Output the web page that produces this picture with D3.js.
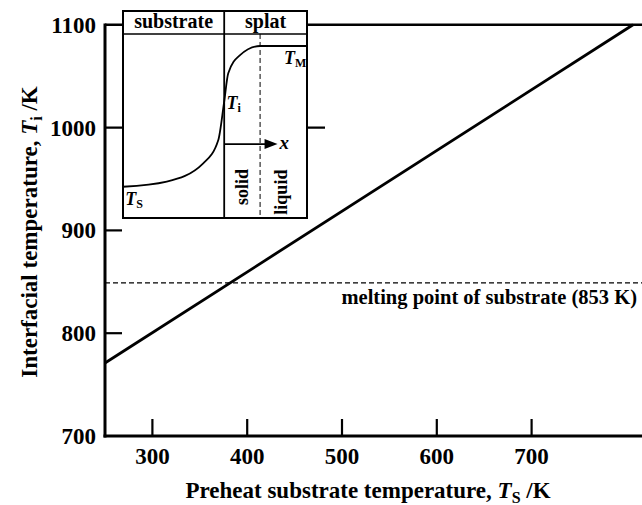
<!DOCTYPE html>
<html>
<head>
<meta charset="utf-8">
<script src="https://cdn.jsdelivr.net/npm/d3@7"></script>
<style>
  body { margin: 0; background: #fff; }
  svg text { font-family: "Liberation Serif", "Times New Roman", Tinos, "DejaVu Serif", serif; font-weight: bold; fill: #000; }
</style>
</head>
<body>
<div id="chart"></div>
<script>
// main chart data
const xTicks = [300, 400, 500, 600, 700];
const yTicks = [700, 800, 900, 1000, 1100];
const interfaceLine = [ {ts: 250, ti: 771}, {ts: 807, ti: 1100} ];
const meltingPoint = 849;   // where the dashed line sits in the picture
const meltingLabel = "melting point of substrate (853 K)";

// inset (schematic profile, arbitrary 0-100 units)
const insetProfile = [
    {u: 0, v: 15.1}, {u: 23.8, v: 17.6}, {u: 43.6, v: 26.4}, {u: 51.8, v: 37.7},
    {u: 54.9, v: 55.6}, {u: 57.2, v: 69.9}, {u: 63.6, v: 78.7}, {u: 74.5, v: 83.1},
    {u: 100, v: 83.1}
];
const insetInterface = 55;
const insetMeltFront = 74.5;
const insetHeader = 88.9;
const insetArrow = {from: 55, to: 84, v: 35.7};

const W = 642, H = 505;
const margin = {top: 24.8, right: 0, bottom: 69, left: 105};

const x = d3.scaleLinear().domain([250, 800]).range([margin.left, margin.left + 550 * 0.948]);
const y = d3.scaleLinear().domain([700, 1100]).range([H - margin.bottom, margin.top]);

const svg = d3.select("#chart").append("svg")
    .attr("width", W)
    .attr("height", H);

// top frame line at 1100
svg.append("line")
    .attr("x1", x(250)).attr("x2", W)
    .attr("y1", y(1100)).attr("y2", y(1100))
    .attr("stroke", "#000").attr("stroke-width", 2.5);

// y ticks (inward); the 1000 tick runs on past the inset
svg.selectAll(".ytick")
    .data(yTicks.filter(d => d > 700 && d < 1100))
    .enter().append("line")
    .attr("x1", x(250))
    .attr("x2", d => x(250) + (d === 1000 ? 220 : 17))
    .attr("y1", d => y(d)).attr("y2", d => y(d))
    .attr("stroke", "#000").attr("stroke-width", 2.2);

// x ticks (inward)
svg.selectAll(".xtick")
    .data(xTicks)
    .enter().append("line")
    .attr("x1", d => x(d)).attr("x2", d => x(d))
    .attr("y1", y(700)).attr("y2", y(700) - 17)
    .attr("stroke", "#000").attr("stroke-width", 2.2);

// axes lines
svg.append("line")
    .attr("x1", x(250)).attr("x2", x(250))
    .attr("y1", y(700) + 1.5).attr("y2", y(1100) - 1.2)
    .attr("stroke", "#000").attr("stroke-width", 3);
svg.append("line")
    .attr("x1", x(250) - 1.5).attr("x2", W)
    .attr("y1", y(700)).attr("y2", y(700))
    .attr("stroke", "#000").attr("stroke-width", 3);

// tick labels
svg.selectAll(".ylab")
    .data(yTicks)
    .enter().append("text")
    .attr("x", x(250) - 9)
    .attr("y", d => y(d) + 8)
    .attr("text-anchor", "end")
    .style("font-size", "23px")
    .text(d => d);

svg.selectAll(".xlab")
    .data(xTicks)
    .enter().append("text")
    .attr("x", d => x(d))
    .attr("y", y(700) + 28)
    .attr("text-anchor", "middle")
    .style("font-size", "23px")
    .text(d => d);

// melting point dashed line + label
svg.append("line")
    .attr("x1", x(250)).attr("x2", W)
    .attr("y1", y(meltingPoint)).attr("y2", y(meltingPoint))
    .attr("stroke", "#000").attr("stroke-width", 1.1)
    .attr("stroke-dasharray", "5,3");
svg.append("text")
    .attr("x", 637).attr("y", y(meltingPoint) + 21)
    .attr("text-anchor", "end")
    .style("font-size", "20.5px")
    .text(meltingLabel);

// interfacial temperature line
const valueline = d3.line()
    .x(d => x(d.ts))
    .y(d => y(d.ti));
svg.append("path")
    .datum(interfaceLine)
    .attr("d", valueline)
    .attr("fill", "none")
    .attr("stroke", "#000")
    .attr("stroke-width", 2.8);

// axis titles
const xt = svg.append("text")
    .attr("x", 368).attr("y", 498)
    .attr("text-anchor", "middle")
    .style("font-size", "23px");
xt.append("tspan").text("Preheat substrate temperature, ");
xt.append("tspan").style("font-style", "italic").text("T");
xt.append("tspan").attr("dy", 5).style("font-size", "16px").text("S");
xt.append("tspan").attr("dy", -5).text(" /K");

const yt = svg.append("text")
    .attr("transform", "translate(37,232) rotate(-90)")
    .attr("text-anchor", "middle")
    .style("font-size", "23px");
yt.append("tspan").text("Interfacial temperature, ");
yt.append("tspan").style("font-style", "italic").text("T");
yt.append("tspan").attr("dy", 5).style("font-size", "16px").text("i");
yt.append("tspan").attr("dy", -5).text(" /K");

// ---- inset ----
const ix = d3.scaleLinear().domain([0, 100]).range([123, 307]);
const iy = d3.scaleLinear().domain([0, 100]).range([218, 11]);
const inset = svg.append("g");

inset.append("rect")
    .attr("x", ix(0)).attr("y", iy(100))
    .attr("width", ix(100) - ix(0)).attr("height", iy(0) - iy(100))
    .attr("fill", "#fff").attr("stroke", "#000").attr("stroke-width", 2);

inset.append("line")
    .attr("x1", ix(0)).attr("x2", ix(100))
    .attr("y1", iy(insetHeader)).attr("y2", iy(insetHeader))
    .attr("stroke", "#000").attr("stroke-width", 1.6);

inset.append("line")
    .attr("x1", ix(insetInterface)).attr("x2", ix(insetInterface))
    .attr("y1", iy(100)).attr("y2", iy(0))
    .attr("stroke", "#000").attr("stroke-width", 1.8);

inset.append("line")
    .attr("x1", ix(insetMeltFront)).attr("x2", ix(insetMeltFront))
    .attr("y1", iy(insetHeader)).attr("y2", iy(0))
    .attr("stroke", "#000").attr("stroke-width", 1)
    .attr("stroke-dasharray", "5,3");

const profileLine = d3.line()
    .x(d => ix(d.u))
    .y(d => iy(d.v))
    .curve(d3.curveMonotoneX);
inset.append("path")
    .datum(insetProfile)
    .attr("d", profileLine)
    .attr("fill", "none")
    .attr("stroke", "#000")
    .attr("stroke-width", 1.8);

// arrow x
const ay = iy(insetArrow.v);
inset.append("line")
    .attr("x1", ix(insetArrow.from)).attr("x2", ix(insetArrow.to) - 9)
    .attr("y1", ay).attr("y2", ay)
    .attr("stroke", "#000").attr("stroke-width", 1.8);
inset.append("path")
    .attr("d", `M${ix(insetArrow.to)},${ay} L${ix(insetArrow.to) - 13},${ay - 5} L${ix(insetArrow.to) - 13},${ay + 5} Z`)
    .attr("fill", "#000");
inset.append("text")
    .attr("x", ix(insetArrow.to) + 2).attr("y", ay + 5)
    .style("font-size", "19px").style("font-style", "italic")
    .text("x");

// header labels
inset.append("text")
    .attr("x", (ix(0) + ix(insetInterface)) / 2).attr("y", iy(insetHeader) - 6)
    .attr("text-anchor", "middle")
    .style("font-size", "20px")
    .text("substrate");
inset.append("text")
    .attr("x", (ix(insetInterface) + ix(100)) / 2).attr("y", iy(insetHeader) - 6)
    .attr("text-anchor", "middle")
    .style("font-size", "20px")
    .text("splat");

// T labels
const tLabel = (px, py, sub) => {
    const t = inset.append("text").attr("x", px).attr("y", py).style("font-size", "18px");
    t.append("tspan").style("font-style", "italic").text("T");
    t.append("tspan").attr("dy", 3).style("font-size", "12px").text(sub);
};
tLabel(ix(1.2), iy(6.5), "S");
tLabel(ix(56.3), iy(52.5), "i");
tLabel(ix(87.5), iy(74.5), "M");

// rotated phase labels
inset.append("text")
    .attr("transform", `translate(${ix(64.8) + 6},${iy(15)}) rotate(-90)`)
    .attr("text-anchor", "middle")
    .style("font-size", "18px")
    .text("solid");
inset.append("text")
    .attr("transform", `translate(${ix(86) + 6},${iy(12.5)}) rotate(-90)`)
    .attr("text-anchor", "middle")
    .style("font-size", "18px")
    .text("liquid");
</script>
</body>
</html>
